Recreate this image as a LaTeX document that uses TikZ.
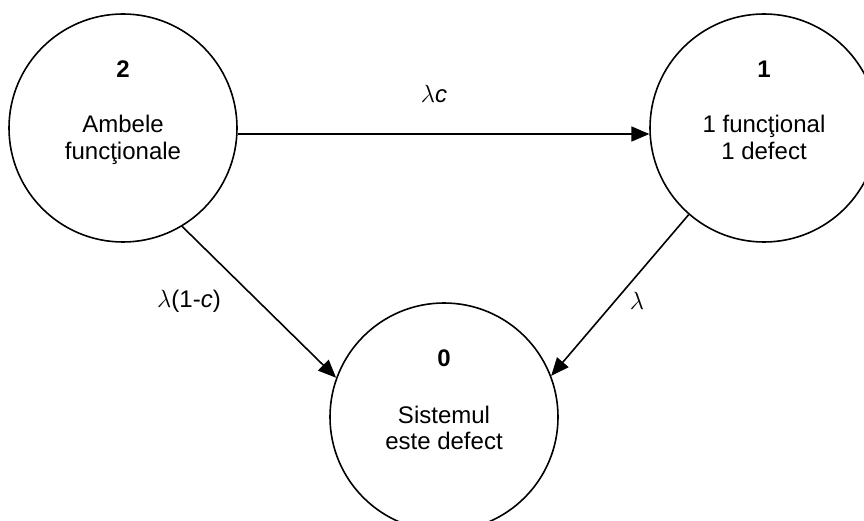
\documentclass[tikz,border=0pt]{standalone}
\usepackage{fontspec}
\setmainfont{Liberation Sans}
\usetikzlibrary{arrows.meta}
\begin{document}
\begin{tikzpicture}[x=1pt,y=-1pt,
  state/.style={draw,circle,line width=1.6pt,minimum size=228pt,inner sep=0pt},
  txt/.style={anchor=base,inner sep=0pt,font=\fontsize{24}{28}\selectfont},
  num/.style={txt,font=\fontsize{24}{28}\selectfont\bfseries},
  edge/.style={line width=1.6pt,-{Triangle[length=18pt,width=15pt]}}]
\useasboundingbox (0,0) rectangle (864,521);
\clip (0,0) rectangle (864,521);
% states
\node[state] (L) at (123,128) {};
\node[state] (R) at (764,128) {};
\node[state] (B) at (444,417) {};
% texts
\node[num] (Ln) at (123,78) {2};
\node[txt] (L1) at (123,133) {Ambele};
\node[txt] (L2) at (123,160) {funcţionale};
\node[num] (Rn) at (764,78) {1};
\node[txt] (R1) at (764,133) {1 funcţional};
\node[txt] (R2) at (764,160) {1 defect};
\node[num] (Bn) at (444,366) {0};
\node[txt] (B1) at (444,423) {Sistemul};
\node[txt] (B2) at (444,449) {este defect};
% transitions
\draw[edge] (L.-3.5) -- (R.183.5);
\draw[edge] (L.-59) -- (B.160.6);
\draw[edge] (R.229.5) -- (B.21.3);
% rates
\node[txt] (e1) at (434,103) {$\lambda$\textit{c}};
\node[txt] (e2) at (189,307) {$\lambda$(1-\textit{c})};
\node[txt] (e3) at (637,309) {$\lambda$};
\end{tikzpicture}
\end{document}
